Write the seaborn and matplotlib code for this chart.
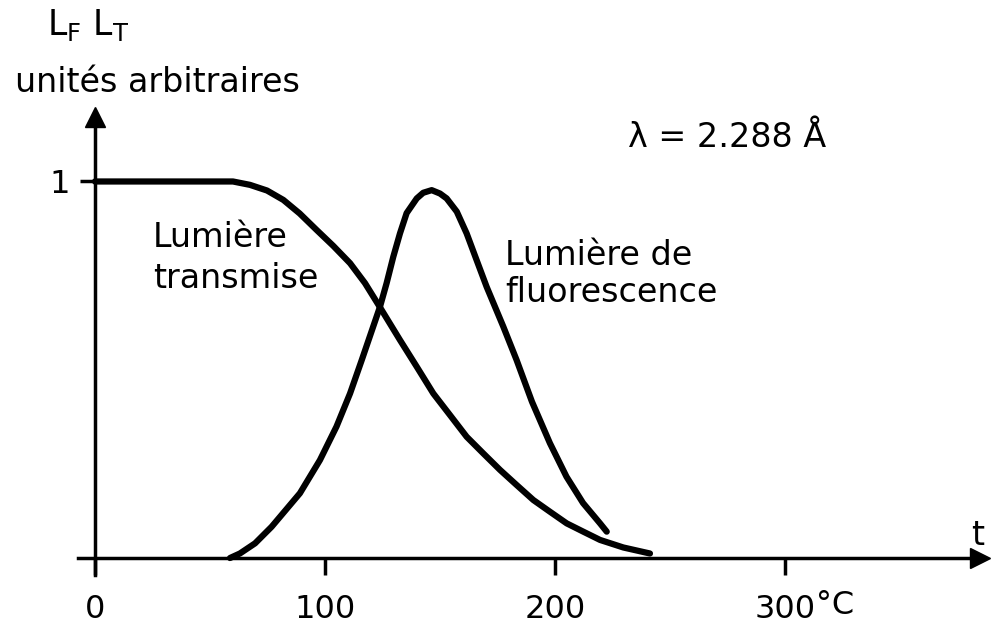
import numpy as np
import pandas as pd
import seaborn as sns
import matplotlib.pyplot as plt

# Values (temperature in °C, intensity in arbitrary units)
transmise_t = [0, 45.7, 60, 67.4, 74.8, 81.9, 89, 96.4, 103.6, 110.9, 117.4, 123.9,
               132.6, 139.9, 147.1, 154.3, 161.6, 168.8, 176.1, 183.3, 190.6, 197.8,
               205.1, 212.3, 219.6, 229.7, 241.3]
transmise_l = [1.0, 1.0, 1.0, 0.991, 0.976, 0.951, 0.915, 0.871, 0.829, 0.783, 0.73, 0.666,
               0.579, 0.508, 0.437, 0.38, 0.322, 0.278, 0.234, 0.194, 0.154, 0.123,
               0.092, 0.07, 0.048, 0.028, 0.012]

fluo_t = [58.7, 63, 69.6, 76.8, 89.1, 97.8, 105, 110.9, 116, 123.9, 126.8, 129.7, 132.6,
          135.5, 139.9, 142.7, 146.4, 150, 152.9, 157.3, 161.6, 166, 170.3, 177.5, 183.3,
          190, 197.8, 205, 212.2, 219.6, 222.5]
fluo_l = [0.0, 0.012, 0.039, 0.083, 0.172, 0.26, 0.349, 0.437, 0.526, 0.667, 0.73, 0.80,
          0.862, 0.916, 0.955, 0.970, 0.977, 0.968, 0.955, 0.92, 0.862, 0.79, 0.72, 0.615,
          0.526, 0.415, 0.305, 0.216, 0.146, 0.092, 0.07]

x_ticks = [0, 100, 200, 300]
x_tick_labels = ['0', '100', '200', '300']
y_ticks = [1]
y_tick_labels = ['1']

df_t = pd.DataFrame({'t': transmise_t, 'L': transmise_l})
df_f = pd.DataFrame({'t': fluo_t, 'L': fluo_l})

sns.set_theme(style='white')
plt.rcParams['font.family'] = ['DejaVu Sans']
plt.rcParams['text.color'] = 'black'

fig = plt.figure(figsize=(10.06, 6.32), dpi=100)
ax = fig.add_axes([0, 0, 1, 1])

line_kw = dict(color='black', lw=4.5, estimator=None,
               solid_joinstyle='round', solid_capstyle='round')
sns.lineplot(data=df_t, x='t', y='L', ax=ax, **line_kw)
sns.lineplot(data=df_f, x='t', y='L', ax=ax, **line_kw)

ax.set_xlim(-41.3, 396.1)
ax.set_ylim(-0.1965, 1.482)
ax.set_xlabel('')
ax.set_ylabel('')

# axes drawn through the origin, with arrows
for side in ['top', 'right']:
    ax.spines[side].set_visible(False)
ax.spines['left'].set_position(('data', 0))
ax.spines['bottom'].set_position(('data', 0))
ax.spines['bottom'].set_bounds(-7.4, 380)
ax.spines['left'].set_bounds(-0.045, 1.145)
for side in ['left', 'bottom']:
    ax.spines[side].set_color('black')
    ax.spines[side].set_linewidth(2.5)
ax.plot([384.8], [0], marker='>', ms=14.5, color='black', clip_on=False)
ax.plot([0], [1.17], marker='^', ms=14.5, color='black', clip_on=False)

ax.set_xticks(x_ticks)
ax.set_xticklabels(x_tick_labels)
ax.set_yticks(y_ticks)
ax.set_yticklabels(y_tick_labels)
ax.tick_params(axis='x', direction='out', length=12, width=2.5, pad=14,
               labelsize=23, colors='black', bottom=True)
ax.tick_params(axis='y', direction='out', length=11, width=2.5, pad=7,
               labelsize=23, colors='black', left=True)
ax.grid(False)

ax.text(313.5, -0.127, '°C', fontsize=23, ha='left', va='center')
ax.text(381, 0.035, 't', fontsize=24, ha='left', va='baseline')

ax.text(-20.9, 1.389, r'L$_{\mathregular{F}}$ L$_{\mathregular{T}}$', fontsize=25,
        ha='left', va='baseline')
ax.text(-34.8, 1.238, 'unités arbitraires', fontsize=24, ha='left', va='baseline')
ax.text(231.7, 1.092, 'λ = 2.288 Å', fontsize=24, ha='left', va='baseline')

ax.text(25.2, 0.717, 'Lumière\ntransmise', fontsize=24, ha='left', va='baseline',
        linespacing=1.3)
ax.text(178.3, 0.68, 'Lumière de\nfluorescence', fontsize=24, ha='left', va='baseline',
        linespacing=1.15)

fig.savefig('out.png', dpi=100)
